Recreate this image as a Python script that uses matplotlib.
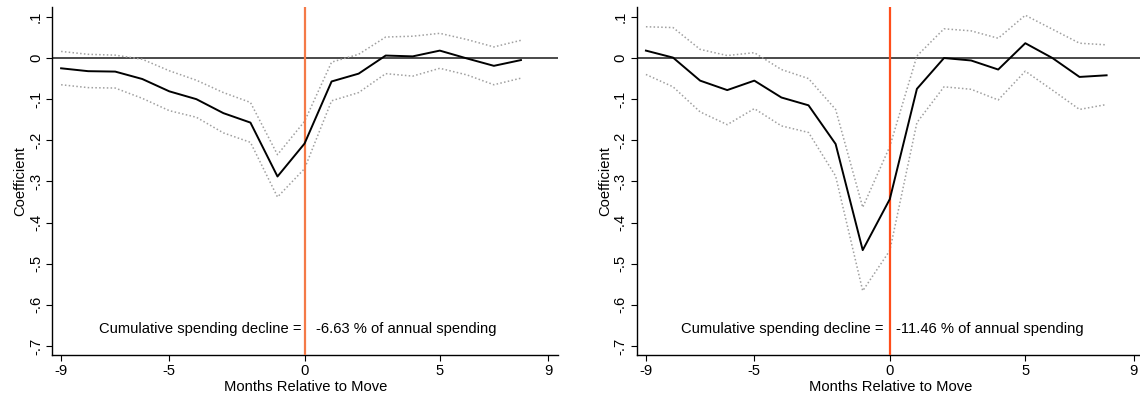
import matplotlib
matplotlib.use("Agg")
import matplotlib.pyplot as plt
import numpy as np

plt.rcParams['font.family'] = ['Liberation Sans', 'DejaVu Sans']
plt.rcParams['axes.unicode_minus'] = False

# event time (months relative to move)
months = list(range(-9, 9))

# panel A
coef_a = [-0.025, -0.032, -0.033, -0.051, -0.081, -0.100, -0.134, -0.157, -0.288,
          -0.208, -0.057, -0.038, 0.006, 0.004, 0.018, -0.001, -0.019, -0.005]
upper_a = [0.016, 0.009, 0.007, -0.003, -0.031, -0.054, -0.084, -0.108, -0.235,
           -0.154, -0.010, 0.009, 0.051, 0.053, 0.060, 0.045, 0.027, 0.043]
lower_a = [-0.065, -0.072, -0.073, -0.098, -0.128, -0.144, -0.182, -0.205, -0.338,
           -0.269, -0.104, -0.084, -0.038, -0.044, -0.025, -0.041, -0.065, -0.049]

# panel B
coef_b = [0.018, 0.001, -0.055, -0.078, -0.055, -0.096, -0.115, -0.209, -0.467,
          -0.343, -0.075, 0.000, -0.006, -0.028, 0.036, 0.000, -0.046, -0.042]
upper_b = [0.076, 0.074, 0.021, 0.006, 0.013, -0.028, -0.050, -0.125, -0.363,
           -0.215, 0.005, 0.071, 0.066, 0.048, 0.104, 0.070, 0.036, 0.032]
lower_b = [-0.040, -0.070, -0.131, -0.162, -0.123, -0.165, -0.181, -0.287, -0.566,
           -0.468, -0.157, -0.070, -0.076, -0.102, -0.032, -0.078, -0.125, -0.113]

decline_a = "-6.63 % of annual spending"
decline_b = "-11.46 % of annual spending"

xticks = [-9, -5, 0, 5, 9]
yticks = [0.1, 0, -0.1, -0.2, -0.3, -0.4, -0.5, -0.6, -0.7]
ytick_labels = [".1", "0", "-.1", "-.2", "-.3", "-.4", "-.5", "-.6", "-.7"]

FS = 10.6


def draw_panel(ax, coef, upper, lower, note, vcolor, left_end, right_start):
    ax.axhline(0, color='#4a4a4a', lw=1.4, zorder=1)
    ax.axvline(0, color=vcolor, lw=1.6, zorder=3)
    ax.plot(months, upper, color='#a0a0a0', lw=1.1, ls=(0, (1, 1.5)), zorder=2)
    ax.plot(months, lower, color='#a0a0a0', lw=1.1, ls=(0, (1, 1.5)), zorder=2)
    ax.plot(months, coef, color='black', lw=1.4, zorder=4)

    ax.text(left_end, -0.658, "Cumulative spending decline =", ha='right', va='center', fontsize=FS)
    ax.text(right_start, -0.658, note, ha='left', va='center', fontsize=FS)

    ax.set_xlim(-9.32, 9.38)
    ax.set_ylim(-0.722, 0.124)
    ax.set_xticks(xticks)
    ax.set_yticks(yticks)
    ax.set_yticklabels(ytick_labels, rotation=90, va='center')
    ax.tick_params(direction='out', length=4.3, width=0.8, labelsize=FS, pad=2.5)
    ax.set_xlabel("Months Relative to Move", fontsize=FS, labelpad=1)
    ax.set_ylabel("Coefficient", fontsize=FS, labelpad=1)
    for s in ['top', 'right']:
        ax.spines[s].set_visible(False)
    for s in ['left', 'bottom']:
        ax.spines[s].set_linewidth(1.0)


fig = plt.figure(figsize=(11.4, 3.98), dpi=100)
ax1 = fig.add_axes([0.046, 0.108, 0.4437, 0.8744])
ax2 = fig.add_axes([0.559, 0.108, 0.4445, 0.8744])

draw_panel(ax1, coef_a, upper_a, lower_a, decline_a, '#f47a48', -0.11, 0.44)
draw_panel(ax2, coef_b, upper_b, lower_b, decline_b, '#ff4d1a', -0.22, 0.24)

fig.savefig("out.png", dpi=100)
